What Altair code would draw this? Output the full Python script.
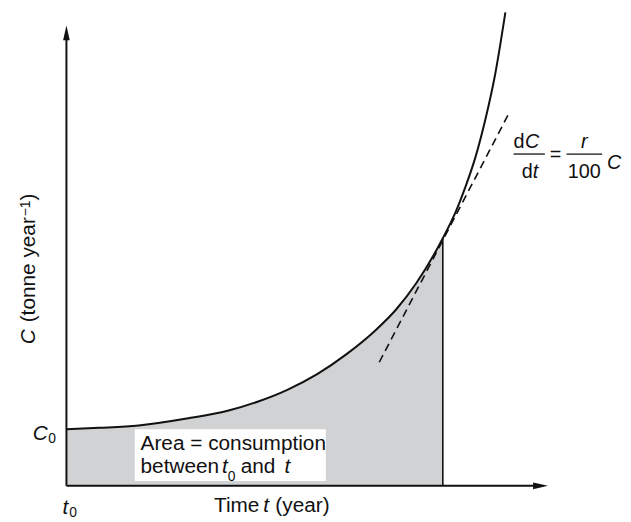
import altair as alt
import pandas as pd

# ---- data (t and C in arbitrary units, axis length = 100) ----
curve_t = [0.0, 6.8, 15.0, 25.3, 33.5, 39.7, 45.9, 52.1, 58.2, 64.4, 68.5, 72.6, 78.2, 80.9, 82.9, 85.0, 87.0, 89.1, 91.2]
curve_c = [11.9, 12.2, 12.7, 14.2, 15.8, 17.7, 20.2, 23.5, 27.7, 32.9, 37.1, 42.5, 52.1, 57.7, 62.9, 69.2, 76.9, 86.7, 99.6]
t_now = 78.2
c_now = 52.1
tangent_t = [65.0, 91.8]
tangent_c = [26.0, 78.1]
box_t = [14.2, 53.9]
box_c = [1.0, 11.9]
x_axis_end = 98.5
y_axis_end = 95.3

FONT = "Liberation Sans"
FS = 21
FS_F = 20
FS_SUB = 14

curve = pd.DataFrame({"t": curve_t, "C": curve_c})
area_df = curve[curve["t"] <= t_now]

xs = alt.Scale(domain=[0, 100])
ys = alt.Scale(domain=[0, 100])
X = lambda f="t": alt.X(f"{f}:Q", scale=xs, axis=None)
Y = lambda f="C": alt.Y(f"{f}:Q", scale=ys, axis=None)

area = alt.Chart(area_df).mark_area(color="#d1d2d4", interpolate="monotone").encode(x=X(), y=Y())

box = alt.Chart(pd.DataFrame({"t": [box_t[0]], "t2": [box_t[1]], "C": [box_c[0]], "C2": [box_c[1]]})).mark_rect(
    color="white").encode(x=X(), x2="t2:Q", y=Y(), y2="C2:Q")

vline = alt.Chart(pd.DataFrame({"t": [t_now], "C": [0.0], "C2": [c_now]})).mark_rule(
    color="#111", strokeWidth=1.6).encode(x=X(), y=Y(), y2="C2:Q")

line = alt.Chart(curve).mark_line(color="#111", strokeWidth=2, interpolate="monotone").encode(x=X(), y=Y())

tangent = alt.Chart(pd.DataFrame({"t": tangent_t, "C": tangent_c})).mark_line(
    color="#111", strokeWidth=1.6, strokeDash=[8, 5]).encode(x=X(), y=Y())

xaxis = alt.Chart(pd.DataFrame({"t": [0.0], "t2": [x_axis_end], "C": [0.0]})).mark_rule(
    color="#111", strokeWidth=2).encode(x=X(), x2="t2:Q", y=Y())
yaxis = alt.Chart(pd.DataFrame({"t": [0.0], "C": [0.0], "C2": [y_axis_end]})).mark_rule(
    color="#111", strokeWidth=2).encode(x=X(), y=Y(), y2="C2:Q")

arrow_up = alt.Chart(pd.DataFrame({"t": [0.0], "C": [y_axis_end]})).mark_point(
    shape="M0,-1L0.45,1L-0.45,1Z", size=225, filled=True, opacity=1, color="#111").encode(x=X(), y=Y())
arrow_right = alt.Chart(pd.DataFrame({"t": [x_axis_end], "C": [0.0]})).mark_point(
    shape="M1,0L-1,0.45L-1,-0.45Z", size=225, filled=True, opacity=1, color="#111").encode(x=X(), y=Y())

# ---- text pieces ----
texts = [
    # label, t, C, italic, size, align, angle
    ("Area = consumption", 15.4, 7.5, False, FS, "left", 0),
    ("between", 15.4, 2.7, False, FS, "left", 0),
    ("t", 32.3, 2.7, True, FS, "left", 0),
    ("0", 33.5, 1.0, False, FS_SUB, "left", 0),
    ("and", 36.2, 2.7, False, FS, "left", 0),
    ("t", 45.3, 2.7, True, FS, "left", 0),
    ("Time", 40.1, -5.6, False, FS, "right", 0),
    ("t", 40.9, -5.6, True, FS, "left", 0),
    ("(year)", 43.4, -5.6, False, FS, "left", 0),
    ("t", -0.8, -6.0, True, FS, "left", 0),
    ("0", 0.6, -6.6, False, FS_SUB, "left", 0),
    ("C", -3.9, 9.6, True, FS, "right", 0),
    ("0", -3.8, 9.0, False, FS_SUB, "left", 0),
    ("d", 92.9, 71.0, False, FS_F, "left", 0),
    ("C", 95.3, 71.0, True, FS_F, "left", 0),
    ("d", 94.6, 64.8, False, FS_F, "left", 0),
    ("t", 96.9, 64.8, True, FS_F, "left", 0),
    ("=", 101.6, 68.3, False, FS_F, "center", 0),
    ("r", 107.6, 71.0, True, FS_F, "center", 0),
    ("100", 107.6, 64.8, False, FS_F, "center", 0),
    ("C", 112.3, 66.7, True, FS_F, "left", 0),
    ("C", -6.6, 29.8, True, FS, "left", 270),
    ("(tonne year", -6.6, 34.4, False, FS, "left", 270),
    ("\u22121", -7.6, 56.7, False, FS_SUB, "left", 270),
    (")", -6.6, 60.0, False, FS, "left", 270),
]
tdf = pd.DataFrame(texts, columns=["label", "t", "C", "italic", "size", "align", "angle"])

text_layers = []
for (it, sz, al, an), g in tdf.groupby(["italic", "size", "align", "angle"]):
    props = dict(font=FONT, fontSize=int(sz), align=al, baseline="alphabetic", color="#111")
    if it:
        props["fontStyle"] = "italic"
    if an:
        props["angle"] = int(an)
    text_layers.append(alt.Chart(g).mark_text(**props).encode(x=X(), y=Y(), text="label:N"))

bars = alt.Chart(pd.DataFrame({"t": [92.9, 103.9], "t2": [99.4, 111.3], "C": [69.8, 69.8]})).mark_rule(
    color="#111", strokeWidth=1.3).encode(x=X(), x2="t2:Q", y=Y())

chart = alt.layer(area, box, vline, line, tangent, xaxis, yaxis, arrow_up, arrow_right, bars, *text_layers).properties(
    width=486, height=480,
    autosize=alt.AutoSizeParams(type="none"),
    padding={"left": 59, "top": 0, "right": 76, "bottom": 33},
).configure_view(stroke=None)

chart.save("out.html", embed_options={"renderer": "svg", "actions": False})
